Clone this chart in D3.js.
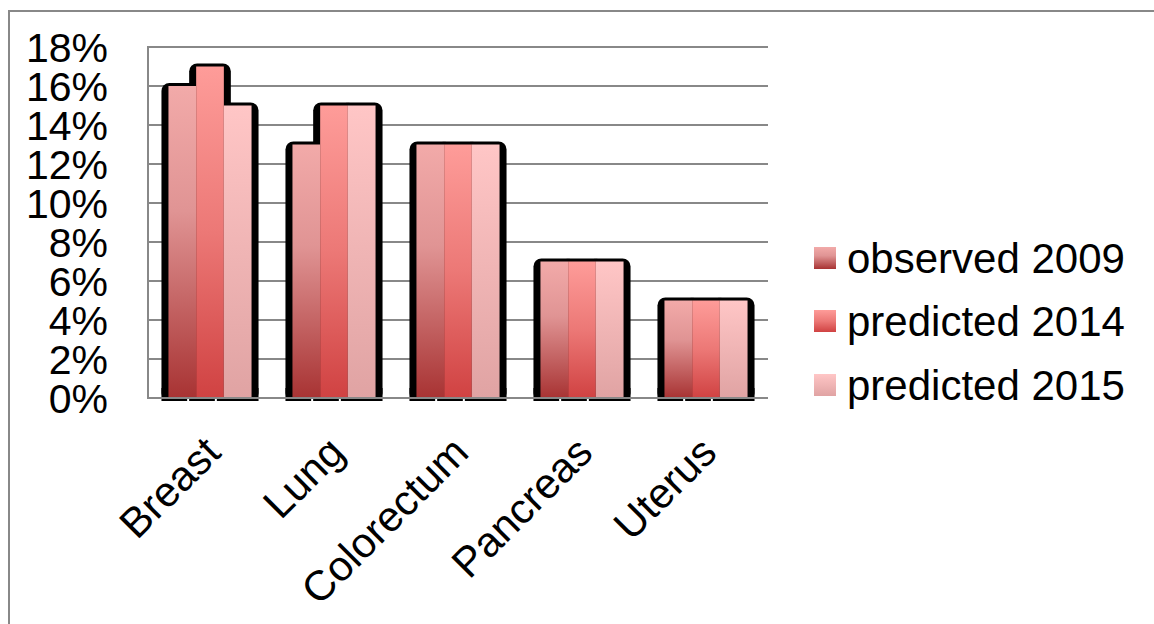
<!DOCTYPE html>
<html>
<head>
<meta charset="utf-8">
<script src="https://cdn.jsdelivr.net/npm/d3@7"></script>
<style>
  html, body { margin: 0; padding: 0; background: #fff; }
  svg { display: block; }
  text { font-family: "Liberation Sans", Arial, sans-serif; fill: #000; }
</style>
</head>
<body>
<svg id="chart" width="1154" height="624"></svg>
<script>
// Share of cancer deaths by site
const categories = ["Breast", "Lung", "Colorectum", "Pancreas", "Uterus"];
const seriesNames = ["observed 2009", "predicted 2014", "predicted 2015"];
const observed2009 = [0.16, 0.13, 0.13, 0.07, 0.05];
const predicted2014 = [0.17, 0.15, 0.13, 0.07, 0.05];
const predicted2015 = [0.15, 0.15, 0.13, 0.07, 0.05];
const yTicks = [0, 0.02, 0.04, 0.06, 0.08, 0.10, 0.12, 0.14, 0.16, 0.18];

const seriesValues = [observed2009, predicted2014, predicted2015];

// vertical gradient stops for each series (top -> bottom)
const gradientStops = [
  [["0%", "#f2aaa9"], ["40%", "#e09494"], ["70%", "#c46464"], ["100%", "#a83333"]],
  [["0%", "#fe9c99"], ["50%", "#ec7876"], ["100%", "#d04242"]],
  [["0%", "#ffc6c6"], ["100%", "#e0a3a3"]]
];

const svg = d3.select("#chart");
const plot = { left: 148, right: 768, top: 47, bottom: 398 };

const defs = svg.append("defs");
gradientStops.forEach((stops, i) => {
  const g = defs.append("linearGradient")
    .attr("id", "grad" + i)
    .attr("x1", 0).attr("y1", 0).attr("x2", 0).attr("y2", 1);
  stops.forEach(([o, c]) => g.append("stop").attr("offset", o).attr("stop-color", c));
});

// outer frame
svg.append("rect")
  .attr("x", 9).attr("y", 11)
  .attr("width", 1146).attr("height", 640)
  .attr("fill", "none").attr("stroke", "#888").attr("stroke-width", 2);

const y = d3.scaleLinear().domain([0, 0.18]).range([plot.bottom, plot.top]);
const x0 = d3.scaleBand().domain(categories).range([plot.left, plot.right])
  .paddingInner(0.33).paddingOuter(0.165);
const x1 = d3.scaleBand().domain(d3.range(seriesNames.length)).range([0, x0.bandwidth()]);

// gridlines
svg.append("g")
  .selectAll("line")
  .data(yTicks)
  .join("line")
  .attr("x1", plot.left).attr("x2", plot.right)
  .attr("y1", d => y(d)).attr("y2", d => y(d))
  .attr("stroke", "#888").attr("stroke-width", 2);

// y axis line
svg.append("line")
  .attr("x1", plot.left).attr("x2", plot.left)
  .attr("y1", plot.top - 1).attr("y2", plot.bottom + 1)
  .attr("stroke", "#888").attr("stroke-width", 2);

// y tick labels
const fmt = d3.format(".0%");
svg.append("g")
  .selectAll("text")
  .data(yTicks)
  .join("text")
  .attr("x", 108)
  .attr("y", d => y(d))
  .attr("dy", "0.36em")
  .attr("text-anchor", "end")
  .attr("font-size", 41)
  .text(d => fmt(d));

const bars = [];
categories.forEach((c, ci) => {
  seriesValues.forEach((vals, si) => {
    bars.push({ cat: c, s: si, v: vals[ci] });
  });
});

// dark backing shadow behind each bar
const shadowPad = 7;
svg.append("g")
  .selectAll("rect")
  .data(bars)
  .join("rect")
  .attr("x", d => x0(d.cat) + x1(d.s) - shadowPad)
  .attr("y", d => y(d.v) - 3)
  .attr("width", x1.bandwidth() + shadowPad * 2)
  .attr("height", d => y(0) - y(d.v) + 6)
  .attr("rx", 8).attr("ry", 8)
  .attr("fill", "#000");

// square off the bottom of the shadows below the axis
svg.append("g")
  .selectAll("rect")
  .data(bars)
  .join("rect")
  .attr("x", d => x0(d.cat) + x1(d.s) - shadowPad)
  .attr("y", y(0) - 10)
  .attr("width", d => d.s === seriesNames.length - 1 ? x1.bandwidth() + shadowPad * 2 : x1.bandwidth() - 2)
  .attr("height", 13)
  .attr("fill", "#000");

// white gap between shadow segments under the axis
svg.append("g")
  .selectAll("rect")
  .data(bars.filter(d => d.s < seriesNames.length - 1))
  .join("rect")
  .attr("x", d => x0(d.cat) + x1(d.s) + x1.bandwidth() - 9)
  .attr("y", y(0) + 1)
  .attr("width", 2)
  .attr("height", 3)
  .attr("fill", "#fff");

// bars
svg.append("g")
  .selectAll("rect")
  .data(bars)
  .join("rect")
  .attr("x", d => x0(d.cat) + x1(d.s))
  .attr("y", d => y(d.v))
  .attr("width", x1.bandwidth())
  .attr("height", d => y(0) - y(d.v))
  .attr("fill", d => `url(#grad${d.s})`);

// x axis line
svg.append("line")
  .attr("x1", plot.left).attr("x2", plot.right)
  .attr("y1", plot.bottom).attr("y2", plot.bottom)
  .attr("stroke", "#888").attr("stroke-width", 2);

// category labels
svg.append("g")
  .selectAll("text")
  .data(categories)
  .join("text")
  .attr("transform", d => `translate(${x0(d) + x0.bandwidth() / 2 - 8},${plot.bottom + 36}) rotate(-45)`)
  .attr("text-anchor", "end")
  .attr("dy", "0.7em")
  .attr("font-size", 42)
  .text(d => d);

// legend
const legend = svg.append("g");
const legendRows = [258, 321, 385];
seriesNames.forEach((name, i) => {
  legend.append("rect")
    .attr("x", 814).attr("y", legendRows[i] - 11)
    .attr("width", 22).attr("height", 22)
    .attr("fill", `url(#grad${i})`);
  legend.append("text")
    .attr("x", 847).attr("y", legendRows[i])
    .attr("dy", "0.36em")
    .attr("font-size", 42)
    .text(name);
});
</script>
</body>
</html>
